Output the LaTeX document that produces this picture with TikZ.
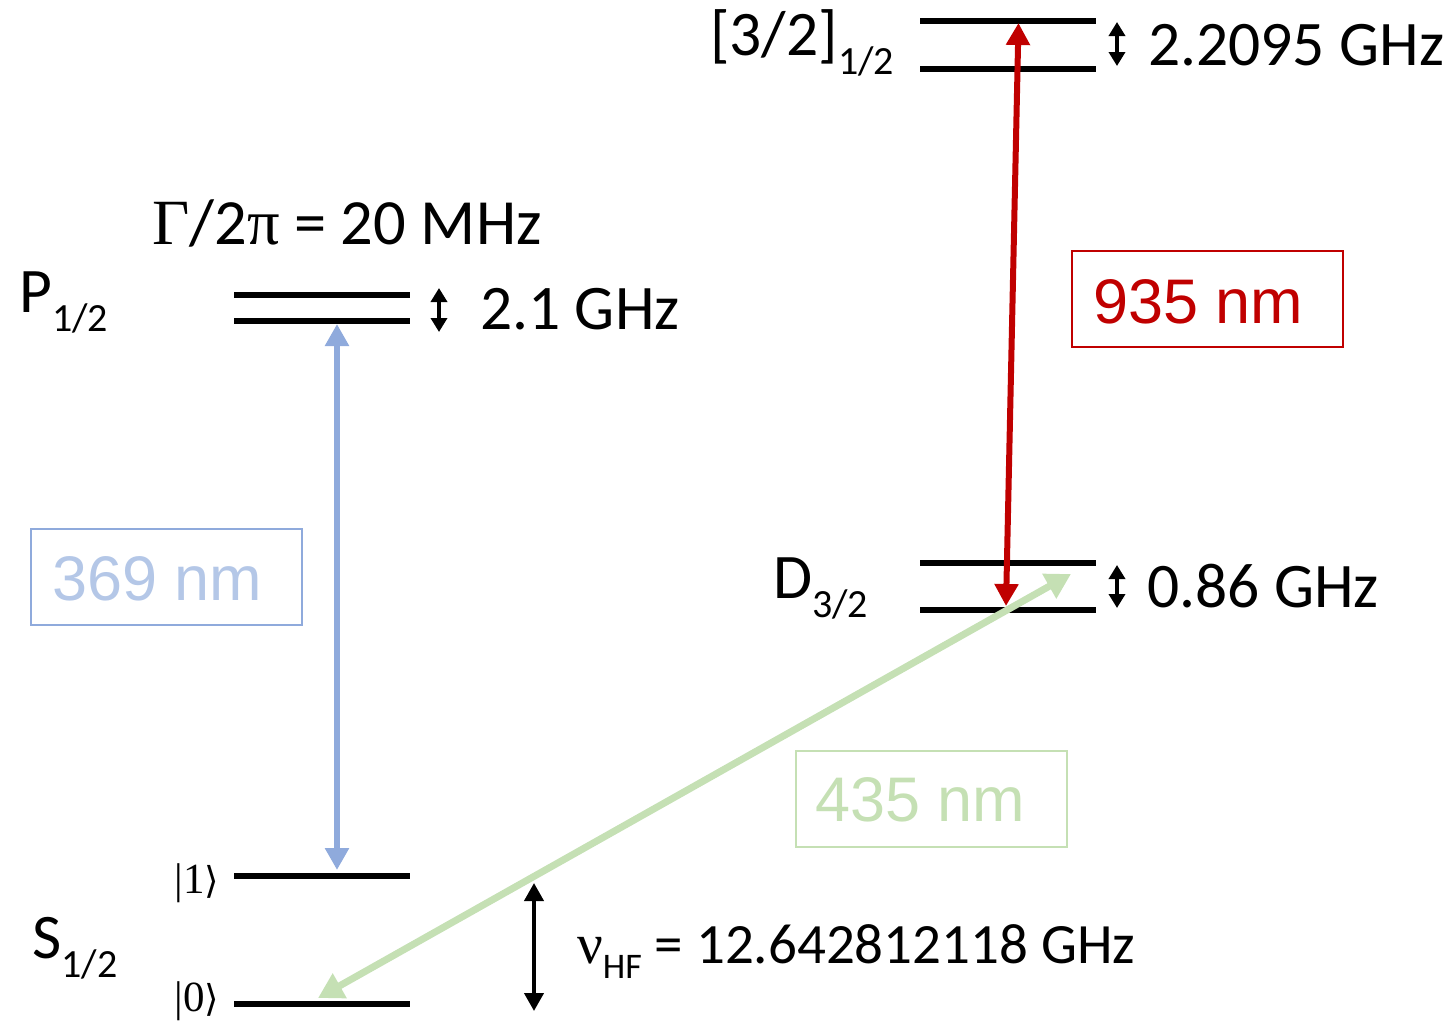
\documentclass[tikz,border=0pt]{standalone}
\usepackage{fontspec}
\setmainfont{Carlito}
\newfontfamily\grserif{Liberation Serif}
\newfontfamily\arialf{Liberation Sans}
\newfontfamily\djv{DejaVu Sans}
\usetikzlibrary{arrows.meta}
\definecolor{lblue}{HTML}{8FAADC}
\definecolor{lbluetxt}{HTML}{B4C7E7}
\definecolor{dred}{HTML}{C00000}
\definecolor{lgreen}{HTML}{C5E0B4}
\newcommand{\lsub}[1]{\raisebox{-19pt}{\fontsize{40}{45}\selectfont #1}}
\newcommand{\hsub}[1]{\raisebox{-15pt}{\fontsize{36}{40}\selectfont #1}}
\tikzset{
  level/.style={line width=5.5pt},
  lbl/.style={inner sep=0pt, anchor=base west, font=\fontsize{63.5}{70}\selectfont},
  smallarr/.style={line width=3.5pt, arrows={Triangle[length=14pt,width=16pt]-Triangle[length=14pt,width=16pt]}},
  bigarr/.style={line width=4pt, arrows={Triangle[length=18pt,width=19pt]-Triangle[length=18pt,width=19pt]}},
  nmbox/.style={draw, line width=2pt, minimum width=271pt, minimum height=96pt, inner sep=0pt},
  nmtxt/.style={inner sep=0pt, anchor=base west, font=\arialf\fontsize{63}{70}\selectfont},
  ket/.style={inner sep=0pt, font=\grserif\fontsize{43}{48}\selectfont}
}
\begin{document}
\begin{tikzpicture}[x=1pt,y=-1pt]
\useasboundingbox (0,0) rectangle (1452,1023);
% levels
\coordinate (Pa1) at (234,295); \coordinate (Pa2) at (410,295);
\coordinate (Pb1) at (234,321); \coordinate (Pb2) at (410,321);
\coordinate (Sa1) at (234,876); \coordinate (Sa2) at (410,876);
\coordinate (Sb1) at (234,1004); \coordinate (Sb2) at (410,1004);
\coordinate (Ea1) at (920,21); \coordinate (Ea2) at (1096,21);
\coordinate (Eb1) at (920,69); \coordinate (Eb2) at (1096,69);
\coordinate (Da1) at (920,563); \coordinate (Da2) at (1096,563);
\coordinate (Db1) at (920,610); \coordinate (Db2) at (1096,610);
\draw[level] (Pa1) -- (Pa2);
\draw[level] (Pb1) -- (Pb2);
\draw[level] (Sa1) -- (Sa2);
\draw[level] (Sb1) -- (Sb2);
\draw[level] (Ea1) -- (Ea2);
\draw[level] (Eb1) -- (Eb2);
\draw[level] (Da1) -- (Da2);
\draw[level] (Db1) -- (Db2);
% transition arrow ends
\coordinate (bTop) at (337,324);
\coordinate (bBot) at (337,870);
\coordinate (rTop) at (1018.5,23);
\coordinate (rBot) at (1006,606);
\coordinate (gLow) at (318,998);
\coordinate (gHigh) at (1071,574);
\draw[lblue, line width=6.5pt, arrows={Triangle[length=22pt,width=23pt]-Triangle[length=22pt,width=23pt]}] (bTop) -- (bBot);
\draw[dred, line width=6pt, arrows={Triangle[length=22pt,width=23pt]-Triangle[length=22pt,width=23pt]}] (rBot) -- (rTop);
\draw[lgreen, line width=7pt, arrows={Triangle[length=25pt,width=27pt]-Triangle[length=25pt,width=27pt]}] (gLow) -- (gHigh);
% splitting arrows
\coordinate (sp1a) at (439,288); \coordinate (sp1b) at (439,332);
\coordinate (sp2a) at (1117,22); \coordinate (sp2b) at (1117,66);
\coordinate (sp3a) at (1117,565); \coordinate (sp3b) at (1117,608);
\coordinate (hfa) at (534,883); \coordinate (hfb) at (534,1011);
\draw[smallarr] (sp1a) -- (sp1b);
\draw[smallarr] (sp2a) -- (sp2b);
\draw[smallarr] (sp3a) -- (sp3b);
\draw[bigarr] (hfa) -- (hfb);
% wavelength boxes
\node[nmbox, draw=lblue] (b369) at (166.5,577) {};
\node[nmtxt, text=lbluetxt] (t369) at (52,600) {369 nm};
\node[nmbox, draw=dred] (b935) at (1207,299) {};
\node[nmtxt, text=dred] (t935) at (1093,323) {935 nm};
\node[nmbox, draw=lgreen] (b435) at (931,798.5) {};
\node[nmtxt, text=lgreen] (t435) at (815,821) {435 nm};
% labels
\node[lbl, font=\fontsize{64.5}{72}\selectfont] (gam) at (152,244) {{\grserif Γ}/2{\grserif π} = 20 MHz};
\node[lbl] (Plab) at (19,312) {P\lsub{1/2}};
\node[lbl] (Psp) at (480,329) {2.1 GHz};
\node[lbl] (Elab) at (710,55) {[3/2]\lsub{1/2}};
\node[lbl] (Esp) at (1148,65) {2.2095 GHz};
\node[lbl] (Dlab) at (773,598) {D\lsub{3/2}};
\node[lbl] (Dsp) at (1147,607) {0.86 GHz};
\node[lbl] (Slab) at (32,958) {S\lsub{1/2}};
\node[ket] (k1) at (197,883) {|1{\djv\fontsize{37}{42}\selectfont ⟩}};
\node[ket] (k0) at (197,1001) {|0{\djv\fontsize{37}{42}\selectfont ⟩}};
\node[lbl, font=\fontsize{57}{62}\selectfont] (hf) at (577,963) {{\grserif ν}\hsub{HF} = 12.642812118 GHz};
\end{tikzpicture}
\end{document}
